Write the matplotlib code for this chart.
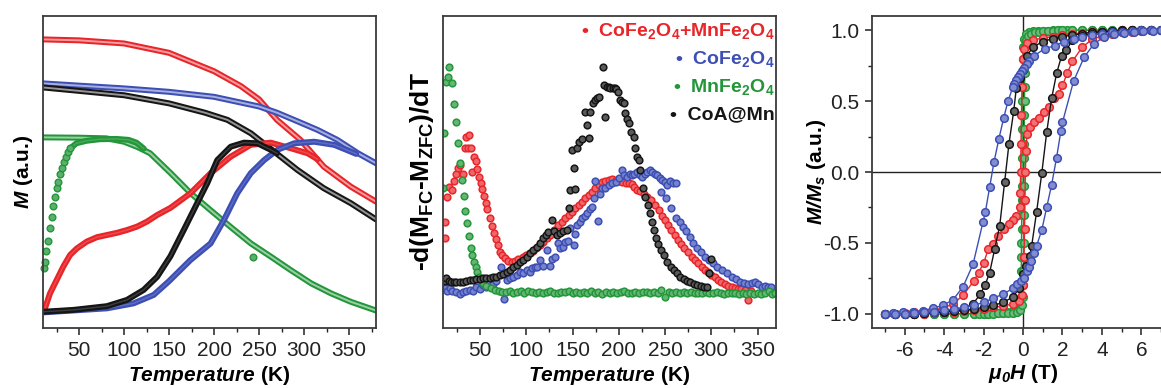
import numpy as np
import matplotlib
matplotlib.use("Agg")
import matplotlib.pyplot as plt
from matplotlib.ticker import MultipleLocator, NullLocator

plt.rcParams['font.family'] = ['Liberation Sans', 'DejaVu Sans']
plt.rcParams['mathtext.fontset'] = 'custom'
plt.rcParams['mathtext.rm'] = 'Liberation Sans'
plt.rcParams['mathtext.it'] = 'Liberation Sans:italic'
plt.rcParams['mathtext.bf'] = 'Liberation Sans:bold'
plt.rcParams['mathtext.bfit'] = 'Liberation Sans:italic:bold'
plt.rcParams['axes.unicode_minus'] = False

RED = '#e8262a'
BLUE = '#3d4fb5'
GREEN = '#23963a'
BLACK = '#151515'

# ---------------- panel (a): M vs T, FC (open) and ZFC (filled) ----------------
red_fc = np.array([[10, 0.925], [50, 0.922], [100, 0.912], [150, 0.882], [200, 0.823], [230, 0.775],
                   [250, 0.733], [270, 0.667], [296, 0.603], [322, 0.517], [352, 0.453], [380, 0.405]])
blue_fc = np.array([[10, 0.784], [100, 0.768], [150, 0.757], [200, 0.741], [250, 0.71], [270, 0.69],
                    [289, 0.667], [315, 0.635], [337, 0.603], [360, 0.56], [380, 0.528]])
black_fc = np.array([[10, 0.771], [50, 0.76], [100, 0.746], [150, 0.72], [190, 0.69], [215, 0.667],
                     [241, 0.624], [267, 0.565], [293, 0.506], [322, 0.448], [352, 0.40], [380, 0.348]])
green_fc = np.array([[10, 0.611], [50, 0.61], [80, 0.608], [100, 0.597], [115, 0.58], [129, 0.56],
                     [152, 0.496], [174, 0.432], [196, 0.378], [218, 0.325], [241, 0.271], [263, 0.229],
                     [285, 0.186], [308, 0.143], [330, 0.111], [352, 0.084], [380, 0.056]])

red_zfc = np.array([[11, 0.055], [12.2, 0.063], [17.8, 0.111], [25.2, 0.154], [32.6, 0.197], [40.1, 0.234],
                    [47.6, 0.255], [58.7, 0.277], [69.9, 0.291], [81, 0.298], [92.2, 0.305], [103.3, 0.314],
                    [114.5, 0.325], [125.6, 0.341], [136.8, 0.362], [151.6, 0.385], [173.9, 0.432],
                    [196.2, 0.496], [218.5, 0.549], [240.8, 0.587], [263.1, 0.594], [285.4, 0.576],
                    [304, 0.56], [315, 0.541]])
black_zfc = np.array([[10, 0.052], [43.8, 0.058], [81, 0.07], [103.3, 0.09], [121.8, 0.122], [136.8, 0.164],
                      [151.6, 0.23], [166.4, 0.314], [181.3, 0.40], [192.5, 0.464], [203.6, 0.538],
                      [218.5, 0.581], [233.3, 0.594], [248.2, 0.592], [263.1, 0.571], [270, 0.56]])
blue_zfc = np.array([[10, 0.05], [81, 0.063], [110.7, 0.079], [133, 0.106], [150, 0.15], [173.9, 0.218],
                     [196.2, 0.271], [211, 0.346], [225.9, 0.432], [240.8, 0.496], [255.6, 0.538],
                     [270.5, 0.571], [289, 0.592], [311.3, 0.597], [333.6, 0.587], [352.2, 0.565],
                     [358, 0.558]])
green_zfc_dots = np.array([[11.1, 0.191], [12.2, 0.213], [13.3, 0.247], [15.9, 0.28], [17.8, 0.32],
                           [19.7, 0.357], [21.5, 0.391], [23.4, 0.421], [25.3, 0.448], [27.1, 0.469],
                           [29.3, 0.494], [31.2, 0.512], [33.0, 0.533], [35.3, 0.549], [37.8, 0.565],
                           [40.4, 0.576], [243.8, 0.229]])
green_zfc = np.array([[40.4, 0.576], [47.1, 0.592], [58.2, 0.60], [73.1, 0.605], [91.6, 0.606],
                      [105, 0.603], [113.9, 0.594], [122, 0.575]])

# ---------------- panel (b): -d(MFC-MZFC)/dT ----------------
red_d = np.array([
    [11.8, 0.287], [11.8, 0.34], [14.3, 0.42], [16.5, 0.453], [20.1, 0.442], [21.9, 0.471], [24.4, 0.492],
    [26.3, 0.512], [28.1, 0.522], [31.7, 0.494], [34.2, 0.578], [35.3, 0.613], [37.2, 0.578], [38.2, 0.617],
    [40.7, 0.576], [41.8, 0.501], [43.6, 0.547], [45.4, 0.535], [46.9, 0.51], [49.0, 0.483], [50.8, 0.466],
    [52.6, 0.444], [54.4, 0.424], [56.3, 0.402], [58.1, 0.38], [60.6, 0.351], [63.1, 0.327], [65.0, 0.306],
    [67.1, 0.284], [69.6, 0.266], [71.5, 0.245], [73.3, 0.234], [76.8, 0.223], [80.5, 0.216], [84.1, 0.212],
    [87.7, 0.216], [91.3, 0.22], [96.7, 0.229], [100, 0.235], [104, 0.241], [107.5, 0.248], [111, 0.255],
    [114.5, 0.266], [118.4, 0.277], [122, 0.288], [125.6, 0.298], [130, 0.314], [134.7, 0.33],
    [138.7, 0.341], [142.3, 0.352], [145.9, 0.362], [149.5, 0.373], [153.1, 0.384], [156.8, 0.395],
    [160.4, 0.405], [164, 0.416], [167.5, 0.426], [171.2, 0.437], [174.8, 0.448], [178.4, 0.458],
    [182, 0.469], [185.6, 0.472], [189.2, 0.474], [192.8, 0.476], [196.5, 0.474], [200, 0.472],
    [203.7, 0.469], [207.3, 0.466], [210.9, 0.464], [214, 0.46], [216.3, 0.453], [220, 0.443],
    [223.5, 0.44], [227, 0.43], [231, 0.42], [235, 0.41], [239, 0.393], [243, 0.377], [246.5, 0.36],
    [250, 0.346], [253.5, 0.33], [257, 0.314], [260.5, 0.298], [264, 0.282], [267.5, 0.268], [271, 0.255],
    [275, 0.242], [279, 0.229], [282.5, 0.218], [286, 0.207], [289.5, 0.196], [293, 0.186], [296.5, 0.178],
    [300, 0.17], [303.7, 0.162], [307.4, 0.154], [311, 0.147], [314.6, 0.14], [318.2, 0.136], [322, 0.132],
    [325.5, 0.129], [329, 0.126], [332.6, 0.124], [336.2, 0.122], [340, 0.09], [343, 0.12]])
blue_d = np.array([
    [11.8, 0.127], [14.5, 0.12], [17.2, 0.127], [20, 0.118], [24.4, 0.116], [28, 0.11], [31.6, 0.115],
    [35, 0.12], [38.9, 0.122], [42.5, 0.118], [46.1, 0.13], [50, 0.125], [53.4, 0.137], [57, 0.13],
    [60.6, 0.143], [64, 0.14], [67.8, 0.152], [72.2, 0.195], [76, 0.092], [78.7, 0.154], [82, 0.16],
    [85.9, 0.165], [89.5, 0.17], [93.1, 0.18], [96.7, 0.175], [100.4, 0.186], [104, 0.18], [105.8, 0.191],
    [109, 0.195], [111.2, 0.197], [114.8, 0.218], [118, 0.2], [122, 0.25], [125.6, 0.2], [128, 0.22],
    [131, 0.229], [134.7, 0.271], [137, 0.255], [140, 0.26], [142.3, 0.277], [145, 0.28], [147.7, 0.32],
    [151.4, 0.266], [153, 0.3], [155, 0.33], [158, 0.34], [160.4, 0.352], [163, 0.36], [165.8, 0.368],
    [168.5, 0.38], [171.2, 0.389], [173, 0.416], [174.8, 0.472], [177.7, 0.343], [180, 0.43], [182, 0.448],
    [185, 0.45], [189.2, 0.458], [192.5, 0.465], [196.5, 0.469], [200, 0.48], [203.7, 0.506], [206, 0.49],
    [209.1, 0.485], [212, 0.495], [214.5, 0.49], [217, 0.495], [220, 0.501], [222.5, 0.49], [225.4, 0.485],
    [228, 0.495], [230.8, 0.501], [233.5, 0.505], [236.2, 0.501], [239, 0.495], [241.6, 0.49],
    [244.3, 0.482], [247, 0.474], [249.7, 0.469], [252.5, 0.458], [255.5, 0.47], [258.5, 0.465],
    [261.5, 0.464], [246.1, 0.437], [251.5, 0.416], [256.9, 0.384], [262.4, 0.352], [266, 0.34],
    [269.6, 0.325], [273, 0.31], [276.8, 0.293], [280.5, 0.272], [284.1, 0.255], [288.5, 0.242],
    [293.1, 0.229], [297.5, 0.218], [302.2, 0.207], [306.5, 0.196], [311.2, 0.186], [316.5, 0.175],
    [322, 0.164], [326.5, 0.156], [331, 0.148], [335.5, 0.144], [340, 0.141], [344, 0.145], [347.3, 0.148],
    [351, 0.14], [354.5, 0.132], [358, 0.135], [361, 0.132], [365, 0.13]])
black_d = np.array([
    [11.8, 0.152], [13.6, 0.159], [16, 0.15], [19, 0.148], [22, 0.146], [24.4, 0.147], [28, 0.148],
    [31.6, 0.148], [35, 0.15], [38.9, 0.154], [42.5, 0.155], [46.1, 0.156], [50, 0.157], [53.4, 0.159],
    [57, 0.16], [60.6, 0.161], [64, 0.163], [67.8, 0.165], [71.5, 0.169], [75, 0.173], [78.7, 0.179],
    [82.3, 0.186], [86, 0.194], [89.5, 0.202], [93, 0.21], [96.7, 0.218], [100.4, 0.228], [104, 0.239],
    [107.5, 0.249], [111.2, 0.26], [114.8, 0.273], [118.4, 0.287], [121, 0.297], [123.8, 0.308],
    [127.4, 0.346], [130, 0.31], [132.8, 0.298], [136, 0.305], [140, 0.31], [144.1, 0.314], [145.9, 0.384],
    [147.7, 0.442], [149.5, 0.571], [151.3, 0.512], [153.1, 0.446], [155, 0.576], [157.4, 0.595],
    [160.4, 0.605], [164, 0.693], [165.8, 0.651], [167.5, 0.608], [169.4, 0.693], [172, 0.72], [174, 0.73],
    [176.6, 0.736], [179, 0.74], [182.6, 0.836], [183.7, 0.779], [185.5, 0.677], [187.3, 0.773],
    [189, 0.772], [191, 0.768], [193.3, 0.77], [195.6, 0.768], [197.5, 0.765], [199.3, 0.757],
    [201.8, 0.731], [203.6, 0.725], [205.5, 0.72], [207.2, 0.688], [209, 0.67], [210.9, 0.656],
    [213.7, 0.629], [216.3, 0.613], [218, 0.576], [219.9, 0.549], [221.5, 0.538], [223.4, 0.506],
    [225.9, 0.448], [228.9, 0.421], [231.8, 0.394], [233.6, 0.368], [236.2, 0.341], [238, 0.314],
    [239.9, 0.288], [242.4, 0.27], [245.3, 0.25], [248.7, 0.235], [252.5, 0.21], [256, 0.195],
    [259.6, 0.185], [263, 0.175], [266.5, 0.165], [270.4, 0.158], [274, 0.152], [277.5, 0.147],
    [281.2, 0.142], [284.5, 0.138], [288.6, 0.134], [292.1, 0.132], [295, 0.131], [297.6, 0.177],
    [299.3, 0.22]])
green_d = np.array([
    [10.5, 0.45], [11.5, 0.624], [13.6, 0.79], [15.4, 0.803], [17.0, 0.836], [20.1, 0.784], [21.9, 0.718],
    [23.7, 0.661], [25.9, 0.594], [28.1, 0.53], [30.6, 0.474], [32.4, 0.423], [34.2, 0.376], [36, 0.336],
    [37.9, 0.295], [40, 0.255], [41.8, 0.234], [43.5, 0.213], [45.4, 0.195], [46.8, 0.181], [48.7, 0.165],
    [50.8, 0.152], [53.4, 0.143], [57, 0.134], [62.4, 0.127], [66, 0.122], [70, 0.118], [74, 0.116],
    [78, 0.114], [82, 0.12], [86, 0.113], [90, 0.115], [94, 0.117], [98, 0.112], [102, 0.118], [106, 0.114],
    [110, 0.113], [114, 0.116], [118, 0.111], [122, 0.115], [126, 0.118], [130, 0.113], [134, 0.112],
    [138, 0.116], [142, 0.114], [146, 0.119], [150, 0.113], [154, 0.116], [158, 0.112], [162, 0.115],
    [166, 0.113], [170, 0.117], [174, 0.112], [178, 0.114], [182, 0.11], [186, 0.115], [190, 0.113],
    [194, 0.116], [198, 0.112], [202, 0.114], [206, 0.117], [210, 0.113], [214, 0.112], [218, 0.115],
    [222, 0.113], [226, 0.116], [230, 0.114], [234, 0.112], [238, 0.115], [242, 0.113], [246, 0.121],
    [250, 0.1], [254, 0.114], [258, 0.112], [262, 0.115], [266, 0.113], [270, 0.116], [274, 0.112],
    [278, 0.114], [282, 0.111], [286, 0.113], [290, 0.112], [294, 0.114], [298, 0.111], [302, 0.113],
    [306, 0.115], [310, 0.112], [314, 0.11], [318, 0.113], [322, 0.111], [326, 0.112], [330, 0.11],
    [334, 0.112], [338, 0.109], [342, 0.111], [346, 0.11], [350, 0.112], [354, 0.109], [358, 0.111],
    [362, 0.12], [366, 0.11], [369, 0.112]])

labels_b = [r"CoFe$_\mathbf{2}$O$_\mathbf{4}$+MnFe$_\mathbf{2}$O$_\mathbf{4}$",
            r"CoFe$_\mathbf{2}$O$_\mathbf{4}$",
            r"MnFe$_\mathbf{2}$O$_\mathbf{4}$",
            "CoA@Mn"]

# ---------------- panel (c): hysteresis loops M/Ms vs mu0H ----------------
blue_desc = np.array([
    [7.0, 1.0], [6.5, 1.0], [6.0, 0.998], [5.5, 0.995], [5.0, 0.99], [4.5, 0.985], [4.0, 0.975],
    [3.5, 0.965], [3.0, 0.955], [2.6, 0.94], [2.1, 0.92], [1.6, 0.89], [1.1, 0.87], [0.57, 0.82],
    [0.3, 0.78], [0.2, 0.76], [0.07, 0.73], [-0.05, 0.71], [-0.15, 0.69], [-0.25, 0.67], [-0.35, 0.65],
    [-0.44, 0.62], [-0.51, 0.60], [-0.76, 0.50], [-0.98, 0.38], [-1.22, 0.235], [-1.47, 0.07],
    [-1.69, -0.107], [-1.91, -0.284], [-2.03, -0.355], [-2.53, -0.65], [-3.04, -0.81], [-3.54, -0.90],
    [-4.05, -0.94], [-4.56, -0.96], [-5.06, -0.977], [-5.57, -0.985], [-6.08, -0.99], [-6.58, -0.995],
    [-7.0, -1.0]])
blue_asc = np.array([
    [-7.0, -1.0], [-6.5, -1.0], [-6.0, -0.998], [-5.5, -0.995], [-5.0, -0.99], [-4.5, -0.985],
    [-4.0, -0.975], [-3.5, -0.965], [-3.0, -0.955], [-2.5, -0.94], [-2.0, -0.92], [-1.5, -0.89],
    [-1.0, -0.86], [-0.5, -0.82], [-0.3, -0.79], [-0.1, -0.77], [0.07, -0.75], [0.2, -0.7], [0.3, -0.67],
    [0.4, -0.63], [0.55, -0.57], [0.69, -0.52], [0.95, -0.41], [1.2, -0.25], [1.45, -0.09], [1.7, 0.10],
    [1.92, 0.29], [2.0, 0.35], [2.56, 0.64], [3.1, 0.81], [3.61, 0.906], [4.12, 0.953], [4.6, 0.97],
    [5.1, 0.98], [5.6, 0.988], [6.1, 0.993], [6.6, 0.997], [7.0, 1.0]])
black_desc = np.array([
    [7, 1.0], [6.5, 1.0], [6, 1.0], [5.5, 1.0], [5, 0.998], [4.5, 0.995], [4, 0.99], [3.5, 0.985],
    [3, 0.975], [2.5, 0.965], [2, 0.955], [1.5, 0.94], [1.0, 0.92], [0.5, 0.88], [0.2, 0.82], [0.0, 0.72],
    [-0.15, 0.66], [-0.34, 0.59], [-0.47, 0.43], [-0.71, 0.2], [-0.93, -0.07], [-1.18, -0.38],
    [-1.43, -0.54], [-1.69, -0.71], [-1.93, -0.8], [-2.16, -0.86], [-2.53, -0.93], [-3.0, -0.96],
    [-3.5, -0.975], [-4, -0.985], [-4.5, -0.99], [-5, -0.995], [-5.5, -1.0], [-6, -1.0], [-6.5, -1.0],
    [-7, -1.0]])
black_asc = np.array([
    [-7, -1.0], [-6.5, -1.0], [-6, -1.0], [-5.5, -1.0], [-5, -0.995], [-4.5, -0.99], [-4, -0.985],
    [-3.5, -0.98], [-3, -0.975], [-2.5, -0.965], [-2, -0.955], [-1.5, -0.94], [-1.0, -0.92], [-0.5, -0.88],
    [-0.2, -0.82], [0.0, -0.72], [0.15, -0.66], [0.34, -0.59], [0.44, -0.52], [0.69, -0.28], [0.95, -0.01],
    [1.2, 0.28], [1.45, 0.52], [1.71, 0.70], [1.96, 0.82], [2.2, 0.86], [2.5, 0.93], [3.0, 0.96],
    [3.5, 0.975], [4, 0.985], [4.5, 0.99], [5, 0.995], [5.5, 1.0], [6, 1.0], [6.5, 1.0], [7, 1.0]])
red_desc = np.array([
    [7, 1.0], [6.5, 1.0], [6, 1.0], [5.5, 1.0], [5, 0.998], [4.5, 0.995], [4, 0.99], [3.5, 0.985],
    [3, 0.98], [2.5, 0.975], [2, 0.965], [1.5, 0.955], [1.0, 0.945], [0.5, 0.93], [0.2, 0.91],
    [0.05, 0.87], [-0.02, 0.8], [-0.05, 0.6], [-0.08, 0.4], [-0.1, 0.2], [-0.12, 0.0], [-0.14, -0.15],
    [-0.17, -0.25], [-0.34, -0.31], [-0.51, -0.34], [-0.71, -0.37], [-0.96, -0.40], [-1.29, -0.45],
    [-1.52, -0.51], [-1.75, -0.54], [-1.99, -0.64], [-2.25, -0.71], [-2.5, -0.77], [-3.04, -0.87],
    [-3.54, -0.93], [-4.05, -0.96], [-4.5, -0.975], [-5, -0.985], [-5.5, -0.99], [-6, -0.995],
    [-6.5, -1.0], [-7, -1.0]])
red_asc = np.array([
    [-7, -1.0], [-6.5, -1.0], [-6, -1.0], [-5.5, -1.0], [-5, -0.998], [-4.5, -0.995], [-4, -0.99],
    [-3.5, -0.985], [-3, -0.98], [-2.5, -0.975], [-2, -0.965], [-1.5, -0.955], [-1.0, -0.945],
    [-0.5, -0.93], [-0.2, -0.91], [-0.05, -0.87], [0.02, -0.8], [0.05, -0.6], [0.08, -0.4], [0.1, -0.2],
    [0.12, 0.0], [0.15, 0.15], [0.2, 0.27], [0.35, 0.32], [0.57, 0.35], [0.8, 0.38], [1.08, 0.42],
    [1.3, 0.46], [1.59, 0.52], [1.8, 0.55], [2.0, 0.61], [2.25, 0.70], [2.5, 0.78], [3.0, 0.88],
    [3.5, 0.935], [4.0, 0.96], [4.5, 0.975], [5, 0.985], [5.5, 0.99], [6, 0.995], [6.5, 1.0], [7, 1.0]])
green_desc = np.array([
    [7, 1.0], [6.5, 1.0], [6, 1.0], [5.5, 1.0], [5, 1.0], [4.5, 1.0], [4, 1.0], [3.5, 1.0], [3, 1.0],
    [2.5, 1.0], [2.25, 0.999], [2, 0.999], [1.75, 0.998], [1.5, 0.998], [1.25, 0.997], [1.0, 0.996],
    [0.75, 0.995], [0.5, 0.993], [0.3, 0.99], [0.15, 0.975], [0.06, 0.94], [0.02, 0.88], [0.0, 0.8],
    [-0.02, 0.7], [-0.03, 0.6], [-0.03, 0.5], [-0.04, 0.4], [-0.04, 0.3], [-0.05, 0.2], [-0.05, 0.1],
    [-0.05, 0.0], [-0.06, -0.1], [-0.06, -0.2], [-0.07, -0.3], [-0.07, -0.4], [-0.08, -0.5],
    [-0.08, -0.6], [-0.09, -0.7], [-0.1, -0.8], [-0.12, -0.88], [-0.16, -0.93], [-0.25, -0.96],
    [-0.4, -0.975], [-0.6, -0.985], [-0.8, -0.99], [-1.0, -0.993], [-1.25, -0.995], [-1.5, -0.997],
    [-1.75, -0.998], [-2, -0.999], [-2.5, -1.0], [-3, -1.0], [-3.5, -1.0], [-4, -1.0], [-4.5, -1.0],
    [-5, -1.0], [-5.5, -1.0], [-6, -1.0], [-6.5, -1.0], [-7, -1.0]])
green_asc = np.array([
    [-7, -1.0], [-6.5, -1.0], [-6, -1.0], [-5.5, -1.0], [-5, -1.0], [-4.5, -1.0], [-4, -1.0],
    [-3.5, -1.0], [-3, -1.0], [-2.5, -1.0], [-2.25, -0.999], [-2, -0.999], [-1.75, -0.998],
    [-1.5, -0.998], [-1.25, -0.997], [-1.0, -0.996], [-0.75, -0.995], [-0.5, -0.993], [-0.3, -0.99],
    [-0.15, -0.975], [-0.06, -0.94], [-0.02, -0.88], [0.0, -0.8], [0.02, -0.7], [0.03, -0.6], [0.03, -0.5],
    [0.04, -0.4], [0.04, -0.3], [0.05, -0.2], [0.05, -0.1], [0.05, 0.0], [0.06, 0.1], [0.06, 0.2],
    [0.07, 0.3], [0.07, 0.4], [0.08, 0.5], [0.08, 0.6], [0.09, 0.7], [0.1, 0.8], [0.12, 0.88],
    [0.16, 0.93], [0.25, 0.96], [0.4, 0.975], [0.6, 0.985], [0.8, 0.99], [1.0, 0.993], [1.25, 0.995],
    [1.5, 0.997], [1.75, 0.998], [2, 0.999], [2.5, 1.0], [3, 1.0], [3.5, 1.0], [4, 1.0], [4.5, 1.0],
    [5, 1.0], [5.5, 1.0], [6, 1.0], [6.5, 1.0], [7, 1.0]])


def light(c, f=0.55):
    rgb = np.array(matplotlib.colors.to_rgb(c))
    return tuple(rgb + (1 - rgb) * f)


def style_axes(ax):
    for s in ax.spines.values():
        s.set_color('#3a3a3a')
        s.set_linewidth(1.3)
    ax.tick_params(which='both', direction='out', labelsize=15, colors='#222222', pad=4)
    ax.tick_params(which='major', length=5, width=1.1)
    ax.tick_params(which='minor', length=3, width=1.0)


fig = plt.figure(figsize=(11.61, 3.88), dpi=100)
W, H = 1161.0, 388.0

# panel (a)
ax1 = fig.add_axes([43 / W, 60 / H, 333 / W, 312 / H])
for fc, c in [(red_fc, RED), (blue_fc, BLUE), (black_fc, BLACK), (green_fc, GREEN)]:
    ax1.plot(fc[:, 0], fc[:, 1], color=c, lw=4.3, solid_capstyle='round', solid_joinstyle='round')
    ax1.plot(fc[:, 0], fc[:, 1], color='white', lw=1.4, alpha=0.55, solid_joinstyle='round')
for zfc, c in [(red_zfc, RED), (blue_zfc, BLUE), (black_zfc, BLACK), (green_zfc, GREEN)]:
    ax1.plot(zfc[:, 0], zfc[:, 1], color=c, lw=4.3, solid_capstyle='round', solid_joinstyle='round')
    ax1.plot(zfc[:, 0], zfc[:, 1], color=light(c, 0.35), lw=1.0, alpha=0.5, solid_joinstyle='round')
ax1.plot(green_zfc_dots[:, 0], green_zfc_dots[:, 1], 'o', ms=4.8, color=GREEN,
         mec=GREEN, mfc=light(GREEN, 0.25), mew=1.0, clip_on=False)
ax1.set_xlim(10, 380)
ax1.set_ylim(0, 1)
ax1.xaxis.set_major_locator(MultipleLocator(50))
ax1.xaxis.set_minor_locator(MultipleLocator(25))
ax1.yaxis.set_major_locator(NullLocator())
style_axes(ax1)
ax1.set_xlabel(r"$\mathbfit{Temperature}$ (K)", fontsize=15, fontweight='bold', labelpad=3)
ax1.set_ylabel(r"$\mathbfit{M}$ (a.u.)", fontsize=15, fontweight='bold', labelpad=6)

# panel (b)
ax2 = fig.add_axes([443 / W, 60 / H, 333 / W, 312 / H])
for d, c in [(red_d, RED), (blue_d, BLUE), (green_d, GREEN), (black_d, BLACK)]:
    ax2.plot(d[:, 0], d[:, 1], 'o', ms=4.8, mec=c, mfc=light(c, 0.3), mew=1.1)
ax2.set_xlim(10, 370)
ax2.set_ylim(0, 1)
ax2.xaxis.set_major_locator(MultipleLocator(50))
ax2.xaxis.set_minor_locator(MultipleLocator(25))
ax2.yaxis.set_major_locator(NullLocator())
style_axes(ax2)
ax2.set_xlabel(r"$\mathbfit{Temperature}$ (K)", fontsize=15, fontweight='bold', labelpad=3)
ax2.set_ylabel(r"-d(M$_\mathbf{FC}$-M$_\mathbf{ZFC}$)/dT", fontsize=19, fontweight='bold', labelpad=5)
for lab, c, yy in zip(labels_b, [RED, BLUE, GREEN, BLACK], [0.953, 0.862, 0.773, 0.683]):
    ax2.text(0.997, yy, "\u2022  " + lab, transform=ax2.transAxes, ha='right', va='center',
             fontsize=14, fontweight='bold', color=c)

# panel (c)
ax3 = fig.add_axes([872 / W, 60 / H, 302 / W, 312 / H])
ax3.axhline(0, color='#222222', lw=1.0, zorder=1)
ax3.axvline(0, color='#222222', lw=1.0, zorder=1)
for br, c in [(green_desc, GREEN), (green_asc, GREEN), (red_desc, RED), (red_asc, RED),
              (black_desc, BLACK), (black_asc, BLACK), (blue_desc, BLUE), (blue_asc, BLUE)]:
    ax3.plot(br[:, 0], br[:, 1], '-o', color=c, lw=1.0, ms=5.5, mec=c, mfc=light(c, 0.35), mew=1.1,
             zorder=2)
ax3.set_xlim(-7.65, 7.65)
ax3.set_ylim(-1.1, 1.1)
ax3.xaxis.set_major_locator(MultipleLocator(2))
ax3.xaxis.set_minor_locator(MultipleLocator(1))
ax3.yaxis.set_major_locator(MultipleLocator(0.5))
ax3.yaxis.set_minor_locator(MultipleLocator(0.25))
style_axes(ax3)
ax3.set_xlabel(r"$\mathbfit{\mu_0H}$ (T)", fontsize=15, fontweight='bold', labelpad=2)
ax3.set_ylabel(r"$\mathbfit{M/M_s}$ (a.u.)", fontsize=15, fontweight='bold')
ax3.yaxis.set_label_coords(-0.145, 0.5)

fig.savefig("out.png", dpi=100)
